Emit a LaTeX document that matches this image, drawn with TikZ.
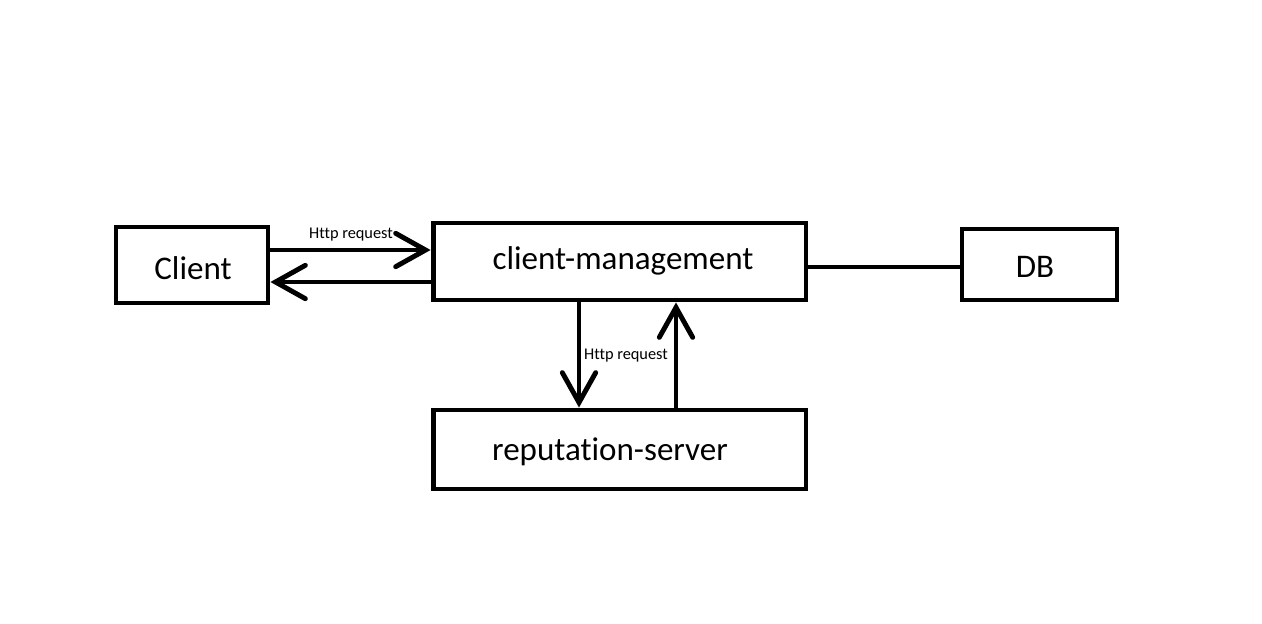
\documentclass[tikz,border=0pt]{standalone}
\usepackage{fontspec}
\setmainfont[Ligatures={NoCommon}]{Carlito}
\usetikzlibrary{arrows.meta}
\begin{document}
\begin{tikzpicture}[x=0.02cm,y=-0.02cm,
    box/.style={draw,line width=2.8pt,inner sep=0pt},
    boxtext/.style={font=\fontsize{18.8}{20}\selectfont},
    conn/.style={line width=2.8pt},
    req/.style={conn,-{Straight Barb[length=17pt,width=19pt,line cap=round]}},
    lbl/.style={font=\fontsize{9.3}{10}\selectfont,inner sep=1pt}]
    \useasboundingbox (0,0) rectangle (1262,623);
    \node[box,minimum width=3.04cm,minimum height=1.52cm] (client) at (192,265) {};
    \node[boxtext] (clienttxt) at (193,268) {Client};
    \node[box,minimum width=7.46cm,minimum height=1.54cm] (mgmt) at (619.5,261.5) {};
    \node[boxtext] (mgmttxt) at (623,261) {client-management};
    \node[box,minimum width=3.1cm,minimum height=1.42cm] (db) at (1039.5,264.5) {};
    \node[boxtext] (dbtxt) at (1035,267) {DB};
    \node[box,minimum width=7.46cm,minimum height=1.58cm] (rep) at (619.5,449.5) {};
    \node[boxtext] (reptxt) at (610,452) {reputation-server};
    % client <-> client-management
    \draw[req] (client.east |- 0,250) -- (mgmt.west |- 0,250);
    \node[lbl] (httpa) at (351,235) {Http request};
    \draw[req] (mgmt.west |- 0,282) -- (client.east |- 0,282);
    % database
    \draw[conn] (mgmt.east |- 0,267) -- (db.west |- 0,267);
    % client-management <-> reputation-server
    \draw[req] (mgmt.south -| 579,0) -- (rep.north -| 579,0);
    \node[lbl] (httpb) at (626,356) {Http request};
    \draw[req] (rep.north -| 676,0) -- (mgmt.south -| 676,0);
\end{tikzpicture}
\end{document}
